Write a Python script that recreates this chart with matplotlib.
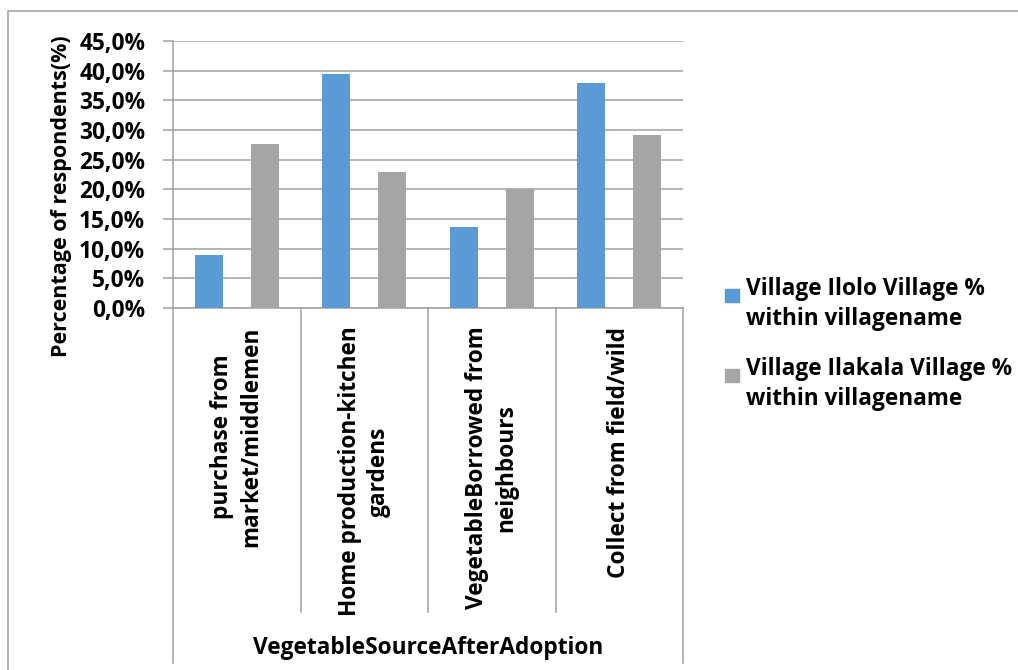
import numpy as np
import matplotlib.pyplot as plt
from matplotlib.patches import Rectangle
import matplotlib.transforms as mtransforms

plt.rcParams['font.family'] = ['Open Sans', 'DejaVu Sans']
plt.rcParams['font.weight'] = 'bold'

# Survey results (% within village)
categories = ["purchase from\nmarket/middlemen",
              "Home production-kitchen\ngardens",
              "VegetableBorrowed from\nneighbours",
              "Collect from field/wild"]
ilolo = [9.0, 39.4, 13.6, 37.9]
ilakala = [27.6, 23.0, 20.0, 29.2]
series_names = ["Village Ilolo Village %\nwithin villagename",
                "Village Ilakala Village %\nwithin villagename"]
colors = ['#5b9bd5', '#a5a5a5']
y_ticks = np.arange(0, 46, 5)

W, H = 1018, 670
FS = 16.3
fig = plt.figure(figsize=(W / 100, H / 100), dpi=100)

# outer frame (top and left edges visible)
fig.add_artist(Rectangle((8 / W, -0.1), 1.2, (H - 11) / H + 0.1, transform=fig.transFigure,
                         fill=False, edgecolor='#a6a6a6', linewidth=1.2))

ax = fig.add_axes([173 / W, (H - 308) / H, 510 / W, 267 / H])
x = np.arange(len(categories))
off, bw = 0.22, 0.22
ax.bar(x - off, ilolo, bw, color=colors[0], zorder=3)
ax.bar(x + off, ilakala, bw, color=colors[1], zorder=3)

ax.set_xlim(-0.5, len(categories) - 0.5)
ax.set_ylim(0, 45)
ax.set_yticks(y_ticks)
ax.set_yticklabels([f"{v:.1f}%".replace('.', ',') for v in y_ticks], fontsize=FS, fontweight='bold')
ax.yaxis.grid(True, color='#a0a0a0', linewidth=1.1, zorder=0)
ax.tick_params(axis='y', length=7, color='#a0a0a0', width=1.1, pad=13)
ax.set_xticks([])
for s in ['top', 'right']:
    ax.spines[s].set_visible(False)
for s in ['left', 'bottom']:
    ax.spines[s].set_color('#a0a0a0')
    ax.spines[s].set_linewidth(1.1)

# y axis title
fig.text(62 / W, (H - 196) / H, "Percentage of respondents(%)", rotation=90,
         ha='center', va='center', fontsize=15.5, fontweight='bold')

# category separators below the axis
trans = mtransforms.blended_transform_factory(ax.transData, ax.transAxes)
inner_bot = (308 - 612) / 267
outer_bot = (308 - 663) / 267
for i in range(len(categories) + 1):
    b = outer_bot if i in (0, len(categories)) else inner_bot
    ax.plot([i - 0.5, i - 0.5], [0, b], transform=trans, color='#a0a0a0',
            linewidth=1.1, clip_on=False)

for i, lab in enumerate(categories):
    ax.text(i, -0.07, lab, transform=trans, rotation=90, ha='center', va='top',
            fontsize=FS, fontweight='bold', multialignment='center', linespacing=1.3)

ax.text(1.5, (308 - 648) / 267, "VegetableSourceAfterAdoption", transform=trans,
        ha='center', va='center', fontsize=FS, fontweight='bold')

# legend
leg_y = [304, 384]
for name, c, yc in zip(series_names, colors, leg_y):
    top = yc - 16
    fig.add_artist(Rectangle((725 / W, (H - top - 14) / H), 14 / W, 13 / H,
                             transform=fig.transFigure, color=c))
    fig.text(746 / W, (H - yc) / H, name, ha='left', va='center', fontsize=FS,
             fontweight='bold', linespacing=1.3)

fig.savefig('out.png', dpi=100)
